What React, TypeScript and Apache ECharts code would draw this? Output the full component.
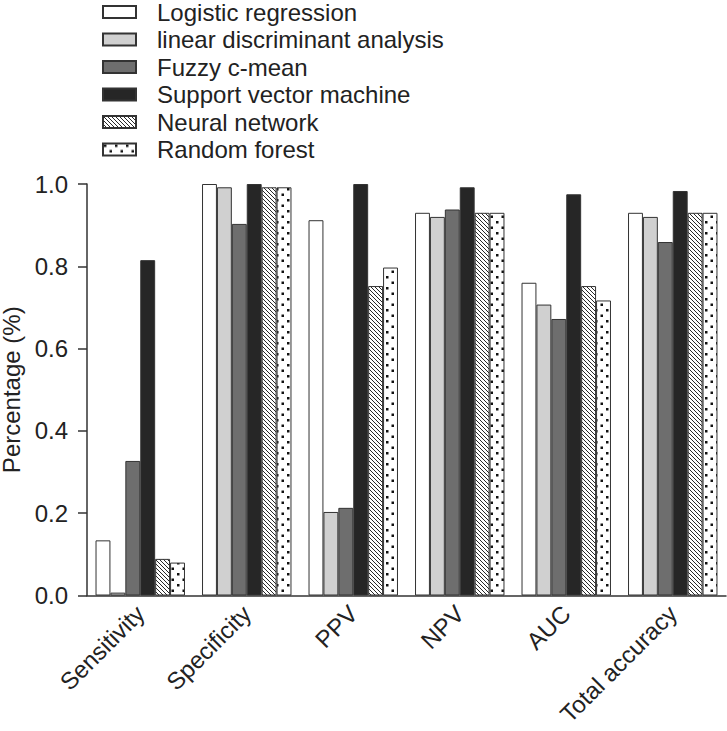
import React, { useEffect, useRef } from "react";
import * as echarts from "echarts";

const categories = ["Sensitivity", "Specificity", "PPV", "NPV", "AUC", "Total accuracy"];
const seriesNames = [
  "Logistic regression",
  "linear discriminant analysis",
  "Fuzzy c-mean",
  "Support vector machine",
  "Neural network",
  "Random forest",
];
const logisticValues = [0.134, 1.0, 0.912, 0.93, 0.76, 0.93];
const ldaValues = [0.007, 0.992, 0.203, 0.92, 0.707, 0.92];
const fcmValues = [0.327, 0.903, 0.213, 0.938, 0.672, 0.859];
const svmValues = [0.815, 1.0, 1.0, 0.992, 0.975, 0.983];
const nnValues = [0.089, 0.992, 0.752, 0.93, 0.752, 0.93];
const rfValues = [0.08, 0.992, 0.797, 0.93, 0.717, 0.93];

const FONT = "Liberation Sans, Arial, sans-serif";
const TEXT = "#222";

function svgUrl(svg: string) {
  return "data:image/svg+xml;charset=utf-8," + encodeURIComponent(svg);
}

const hatch = {
  image: svgUrl(
    "<svg xmlns='http://www.w3.org/2000/svg' width='4' height='4'><rect width='4' height='4' fill='white'/><path d='M-1,-1 L5,5 M-1,3 L1,5 M3,-1 L5,1' stroke='#111' stroke-width='0.9'/></svg>"
  ),
  imageWidth: 4,
  imageHeight: 4,
  repeat: "repeat",
};
const dots = {
  image: svgUrl(
    "<svg xmlns='http://www.w3.org/2000/svg' width='11' height='11'><rect width='11' height='11' fill='white'/><rect x='1' y='1' width='2.5' height='2.5' fill='#111'/><rect x='6.5' y='6.5' width='2.5' height='2.5' fill='#111'/></svg>"
  ),
  imageWidth: 11,
  imageHeight: 11,
  repeat: "repeat",
};

const seriesValues = [logisticValues, ldaValues, fcmValues, svmValues, nnValues, rfValues];
const fills: any[] = ["#ffffff", "#d0d0d0", "#6e6e6e", "#262626", hatch, dots];

export default function App() {
  const ref = useRef<HTMLDivElement>(null);
  useEffect(() => {
    if (!ref.current) return;
    const chart = echarts.init(ref.current, null, { renderer: "svg" });
    chart.setOption({
      animation: false,
      backgroundColor: "#ffffff",
      textStyle: { fontFamily: FONT, color: TEXT },
      legend: {
        orient: "vertical",
        left: 102,
        top: 0,
        padding: 0,
        itemWidth: 33,
        itemHeight: 12,
        itemGap: 3.5,
        icon: "rect",
        selectedMode: false,
        textStyle: {
          fontFamily: FONT,
          fontSize: 24,
          lineHeight: 24,
          color: TEXT,
          padding: [0, 0, 0, 16],
        },
        data: seriesNames,
      },
      grid: {
        left: 87,
        right: 1,
        top: 184,
        bottom: 135.5,
        containLabel: false,
        outerBoundsMode: "none",
      },
      xAxis: {
        type: "category",
        data: categories,
        axisLine: { lineStyle: { color: "#333", width: 1.5 } },
        axisTick: { length: 9, lineStyle: { color: "#333", width: 1.5 } },
        axisLabel: {
          rotate: 45,
          margin: 14,
          fontSize: 24,
          color: TEXT,
          fontFamily: FONT,
          interval: 0,
        },
      },
      yAxis: {
        type: "value",
        min: 0,
        max: 1,
        interval: 0.2,
        name: "Percentage (%)",
        nameLocation: "middle",
        nameGap: 57,
        nameTextStyle: { fontSize: 24, lineHeight: 24, color: TEXT, fontFamily: FONT },
        axisLine: { show: true, lineStyle: { color: "#333", width: 1.5 } },
        axisTick: { show: true, length: 9, lineStyle: { color: "#333", width: 1.5 } },
        splitLine: { show: false },
        axisLabel: {
          margin: 19,
          fontSize: 24,
          color: TEXT,
          fontFamily: FONT,
          formatter: (v: number) => v.toFixed(1),
        },
      },
      series: seriesNames.map((name, i) => ({
        name,
        type: "bar",
        data: seriesValues[i],
        barGap: "0%",
        barCategoryGap: "16%",
        itemStyle: { color: fills[i], borderColor: "#333", borderWidth: 1 },
      })),
    });
    return () => chart.dispose();
  }, []);
  return <div ref={ref} style={{ width: 727, height: 731, position: "absolute", left: 0, top: 0 }} />;
}
